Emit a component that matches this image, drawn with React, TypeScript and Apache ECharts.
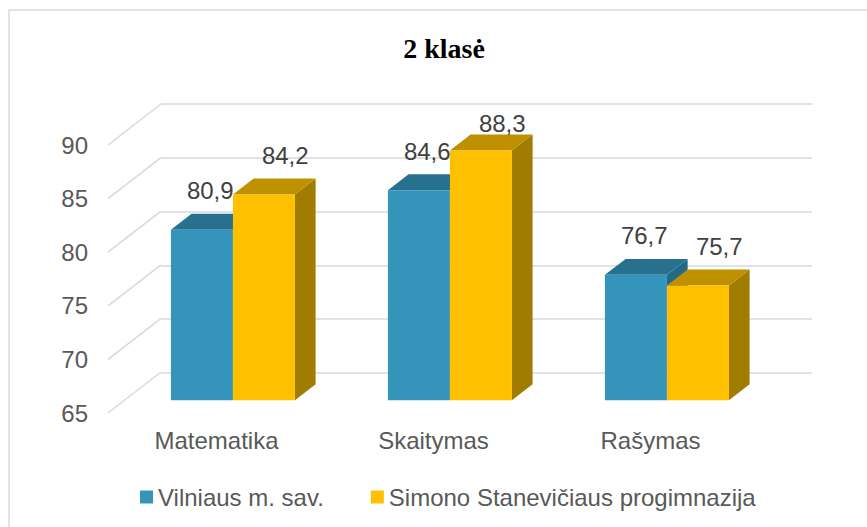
import React, { useEffect, useRef } from "react";
import * as echarts from "echarts";

const categories = ["Matematika", "Skaitymas", "Rašymas"];
const seriesNames = ["Vilniaus m. sav.", "Simono Stanevičiaus progimnazija"];
const vilniusValues = [80.9, 84.6, 76.7];
const simonoValues = [84.2, 88.3, 75.7];
const yTicks = [65, 70, 75, 80, 85, 90];

const Y_MIN = 65;
const Y_MAX = 90;
const Y_STEP = 5;

// pseudo-3D geometry
const DEPTH_X = 53;
const DEPTH_Y = -41;
const F_FRONT = 0.31;
const F_BACK = 0.7;
const BAR_RATIO = 0.2857;
const LABEL_MIN_Y = 123;

const FONT = "'Liberation Sans', Arial, sans-serif";

const blueFaces = { front: "#3494BA", top: "#27718F", side: "#226A86", label: -2 };
const yellowFaces = { front: "#FFC000", top: "#BF9000", side: "#A07C00", label: 11 };

const fmt = (v: number) => String(v).replace(".", ",");

function makeBarRenderer(slot: number, faces: any) {
  return (params: any, api: any) => {
    const cat = api.value(0);
    const val = api.value(1);
    const band = api.size([1, 0])[0];
    const w = band * BAR_RATIO;
    const top = api.coord([cat, val]);
    const base = api.coord([cat, Y_MIN]);
    const fx = DEPTH_X * F_FRONT;
    const fy = DEPTH_Y * F_FRONT;
    const dx = DEPTH_X * (F_BACK - F_FRONT);
    const dy = DEPTH_Y * (F_BACK - F_FRONT);
    const x0 = top[0] - w + slot * w + fx;
    const x1 = x0 + w;
    const yT = top[1] + fy;
    const yB = base[1] + fy;
    return {
      type: "group",
      children: [
        {
          type: "polygon",
          shape: { points: [[x1, yT], [x1 + dx, yT + dy], [x1 + dx, yB + dy], [x1, yB]] },
          style: { fill: faces.side },
        },
        {
          type: "polygon",
          shape: { points: [[x0, yT], [x1, yT], [x1 + dx, yT + dy], [x0 + dx, yT + dy]] },
          style: { fill: faces.top },
        },
        {
          type: "rect",
          shape: { x: x0, y: yT, width: w, height: yB - yT },
          style: { fill: faces.front },
        },
        {
          type: "text",
          x: (x0 + x1) / 2 + dx / 2 + faces.label,
          y: Math.max(yT + dy - 23, LABEL_MIN_Y),
          style: {
            text: fmt(val),
            align: "center",
            verticalAlign: "middle",
            fontSize: 24,
            fontFamily: FONT,
            fill: "#404040",
          },
        },
      ],
    };
  };
}

function wallRenderer(params: any, api: any) {
  const v = api.value(1);
  const band = api.size([1, 0])[0];
  const p = api.coord([0, v]);
  const x0 = p[0] - band / 2;
  return {
    type: "line",
    shape: { x1: x0, y1: p[1], x2: x0 + DEPTH_X, y2: p[1] + DEPTH_Y },
    style: { stroke: "#D9D9D9", lineWidth: 1.5 },
  };
}

export default function App() {
  const ref = useRef<HTMLDivElement>(null);
  useEffect(() => {
    const chart = echarts.init(ref.current!, null, { renderer: "svg" });
    const option: any = {
      animation: false,
      backgroundColor: "#ffffff",
      graphic: [
        {
          type: "rect",
          shape: { x: 9, y: 10, width: 1000, height: 1000 },
          style: { fill: "none", stroke: "#D9D9D9", lineWidth: 1.5 },
          silent: true,
        },
        {
          type: "text",
          x: 444,
          y: 48,
          style: {
            text: "2 klasė",
            align: "center",
            verticalAlign: "middle",
            fontSize: 28,
            fontWeight: "bold",
            fontFamily: "'Liberation Serif', 'Times New Roman', serif",
            fill: "#000000",
          },
        },
      ],
      legend: {
        left: 135,
        top: 480,
        icon: "rect",
        itemWidth: 13,
        itemHeight: 13,
        itemGap: 47,
        data: seriesNames,
        textStyle: { fontSize: 24, color: "#595959", fontFamily: FONT },
      },
      grid: [
        { left: 108, right: 108, top: 145, bottom: 114 },
        { left: 161, right: 55, top: 104, bottom: 154 },
      ],
      xAxis: [
        {
          type: "category",
          gridIndex: 0,
          data: categories,
          axisLine: { show: false },
          axisTick: { show: false },
          axisLabel: { margin: 15, fontSize: 24, color: "#595959", fontFamily: FONT },
        },
        {
          type: "category",
          gridIndex: 1,
          data: categories,
          show: false,
        },
      ],
      yAxis: [
        {
          type: "value",
          gridIndex: 0,
          min: Y_MIN,
          max: Y_MAX,
          interval: Y_STEP,
          splitLine: { show: false },
          axisLine: { show: false },
          axisTick: { show: false },
          axisLabel: { margin: 20, fontSize: 24, color: "#595959", fontFamily: FONT },
        },
        {
          type: "value",
          gridIndex: 1,
          min: Y_MIN,
          max: Y_MAX,
          interval: Y_STEP,
          axisLine: { show: false },
          axisTick: { show: false },
          axisLabel: { show: false },
          splitLine: { show: true, lineStyle: { color: "#D9D9D9", width: 1.5 } },
        },
      ],
      series: [
        {
          type: "custom",
          name: "wall",
          xAxisIndex: 0,
          yAxisIndex: 0,
          renderItem: wallRenderer,
          data: yTicks.map((v) => [0, v]),
          silent: true,
          z: 1,
        },
        {
          type: "custom",
          name: seriesNames[0],
          xAxisIndex: 0,
          yAxisIndex: 0,
          itemStyle: { color: blueFaces.front },
          renderItem: makeBarRenderer(0, blueFaces),
          data: vilniusValues.map((v, i) => [i, v]),
          z: 3,
        },
        {
          type: "custom",
          name: seriesNames[1],
          xAxisIndex: 0,
          yAxisIndex: 0,
          itemStyle: { color: yellowFaces.front },
          renderItem: makeBarRenderer(1, yellowFaces),
          data: simonoValues.map((v, i) => [i, v]),
          z: 4,
        },
      ],
    };
    chart.setOption(option);
    return () => chart.dispose();
  }, []);
  return (
    <div
      ref={ref}
      style={{ position: "fixed", left: 0, top: 0, width: 867, height: 527, background: "#fff" }}
    />
  );
}
